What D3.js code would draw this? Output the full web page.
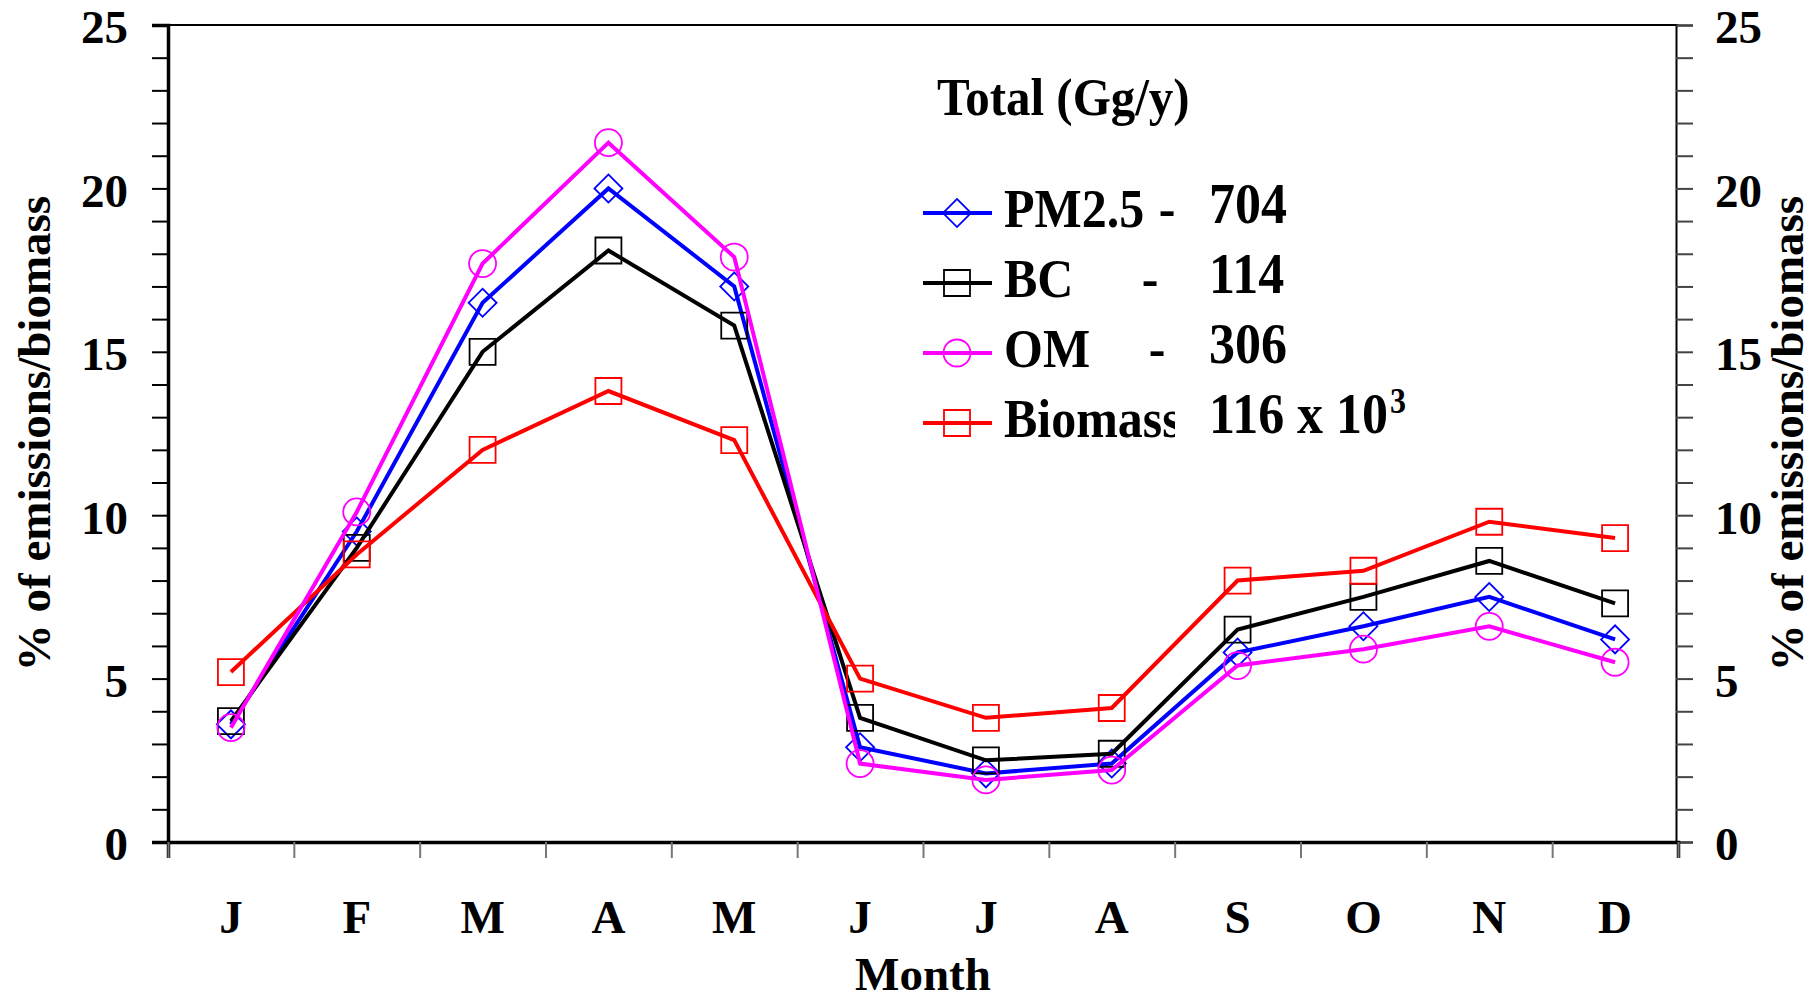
<!DOCTYPE html>
<html>
<head>
<meta charset="utf-8">
<script src="https://cdn.jsdelivr.net/npm/d3@7"></script>
<style>
  body { margin: 0; background: #fff; }
  text { font-family: "Liberation Serif", "Times New Roman", serif; font-weight: bold; }
</style>
</head>
<body>
<div id="chart"></div>
<script>
// month labels (index used as the key because J/M/A repeat)
var months = ["J", "F", "M", "A", "M", "J", "J", "A", "S", "O", "N", "D"];

// % of annual emissions per month
var pm25    = [3.6, 9.5, 16.5, 20.0, 17.0, 2.9, 2.1, 2.4, 5.8, 6.6, 7.5, 6.2];
var bc      = [3.7, 9.0, 15.0, 18.1, 15.8, 3.8, 2.5, 2.7, 6.5, 7.5, 8.6, 7.3];
var om      = [3.5, 10.1, 17.7, 21.4, 17.9, 2.4, 1.9, 2.2, 5.4, 5.9, 6.6, 5.5];
var biomass = [5.2, 8.8, 12.0, 13.8, 12.3, 5.0, 3.8, 4.1, 8.0, 8.3, 9.8, 9.3];

var seriesNames = ["PM2.5", "BC", "OM", "Biomass"];
var seriesTotals = ["704", "114", "306", "116 x 10"];
var yTicks = d3.range(0, 26, 1);

var series = [
  {name: "PM2.5", values: pm25, color: "#0000ff", marker: "diamond"},
  {name: "BC", values: bc, color: "#000000", marker: "square"},
  {name: "Biomass", values: biomass, color: "#ff0000", marker: "square"},
  {name: "OM", values: om, color: "#ff00ff", marker: "circle"}
];

var width = 1818, height = 1000;
var margin = {top: 25, right: 140, bottom: 158, left: 168};
var plotW = width - margin.left - margin.right,
    plotH = height - margin.top - margin.bottom;

var svg = d3.select("#chart")
  .append("svg")
  .attr("width", width)
  .attr("height", height);

var g = svg.append("g")
  .attr("transform", "translate(" + margin.left + "," + margin.top + ")");

var x = d3.scaleBand()
  .domain(d3.range(months.length))
  .range([0, plotW]);

var xEdge = d3.scaleLinear()
  .domain([0, months.length])
  .range([0, plotW]);

var y = d3.scaleLinear()
  .domain([0, 25])
  .range([plotH, 0]);

// frame: top line
g.append("line")
  .attr("x1", -16).attr("x2", plotW)
  .attr("y1", 0).attr("y2", 0)
  .attr("stroke", "#000").attr("stroke-width", 2);

// left axis
var yLeft = g.append("g")
  .call(d3.axisLeft(y).tickValues(yTicks).tickSize(16).tickPadding(24)
    .tickFormat(function(d){ return d % 5 === 0 ? d : ""; }));
yLeft.select(".domain").attr("stroke-width", 3.5);
yLeft.selectAll(".tick line").attr("stroke-width", 2);
yLeft.selectAll(".tick text")
  .attr("font-size", 47).attr("fill", "#000")
  .attr("dy", "0.38em");

// right axis
var yRight = g.append("g")
  .attr("transform", "translate(" + (plotW - 2) + ",0)")
  .call(d3.axisRight(y).tickValues(yTicks).tickSize(17).tickPadding(22)
    .tickFormat(function(d){ return d % 5 === 0 ? d : ""; }));
yRight.select(".domain").attr("stroke-width", 2);
yRight.selectAll(".tick line").attr("stroke", "#444").attr("stroke-width", 2);
yRight.selectAll(".tick text")
  .attr("font-size", 47).attr("fill", "#000")
  .attr("dy", "0.38em");

// bottom axis: gray ticks at month boundaries
var xAxis = g.append("g")
  .attr("transform", "translate(0," + plotH + ")")
  .call(d3.axisBottom(xEdge).tickValues(d3.range(0, 13)).tickSize(16).tickFormat(""));
xAxis.select(".domain").attr("stroke-width", 3.5);
xAxis.selectAll(".tick line").attr("stroke", "#777").attr("stroke-width", 2);

// month labels
g.append("g").selectAll("text")
  .data(months)
  .enter()
  .append("text")
  .attr("x", function(d, i){ return x(i) + x.bandwidth() / 2; })
  .attr("y", plotH + 91)
  .attr("text-anchor", "middle")
  .attr("font-size", 47)
  .text(function(d){ return d; });

// axis titles
svg.append("text")
  .attr("x", margin.left + plotW / 2)
  .attr("y", 990)
  .attr("text-anchor", "middle")
  .attr("font-size", 47)
  .text("Month");

svg.append("text")
  .attr("transform", "translate(50," + (margin.top + plotH / 2) + ") rotate(-90)")
  .attr("text-anchor", "middle")
  .attr("font-size", 47)
  .text("% of emissions/biomass");

svg.append("text")
  .attr("transform", "translate(1803," + (margin.top + plotH / 2) + ") rotate(-90)")
  .attr("text-anchor", "middle")
  .attr("font-size", 47)
  .text("% of emissions/biomass");

// marker symbols
function markerPath(type) {
  if (type === "circle") return d3.symbol().type(d3.symbolCircle).size(Math.PI * 13.5 * 13.5)();
  if (type === "diamond") return d3.symbol().type(d3.symbolSquare).size(392)();
  return d3.symbol().type(d3.symbolSquare).size(676)();
}
function markerTransform(type, px, py) {
  return "translate(" + px + "," + py + ")" + (type === "diamond" ? " rotate(45)" : "");
}

var line = d3.line()
  .x(function(d, i){ return x(i) + x.bandwidth() / 2; })
  .y(function(d){ return y(d); });

series.forEach(function(s){
  g.append("path")
    .datum(s.values)
    .attr("d", line)
    .attr("fill", "none")
    .attr("stroke", s.color)
    .attr("stroke-width", 4)
    .attr("stroke-linejoin", "miter");

  g.append("g").selectAll("path")
    .data(s.values)
    .enter()
    .append("path")
    .attr("d", markerPath(s.marker))
    .attr("transform", function(d, i){
      return markerTransform(s.marker, x(i) + x.bandwidth() / 2, y(d));
    })
    .attr("fill", "none")
    .attr("stroke", s.color)
    .attr("stroke-width", 1.8);
});

// legend (glyphs in the original are a little taller than wide)
var legend = svg.append("g");
legend.append("text")
  .attr("transform", "translate(937,115) scale(1,1.08)")
  .attr("font-size", 49)
  .text("Total (Gg/y)");

svg.append("defs").append("clipPath")
  .attr("id", "clipName")
  .append("rect")
  .attr("x", 0).attr("y", -100).attr("width", 171).attr("height", 200);

var legendRows = [
  {name: seriesNames[0], total: seriesTotals[0], color: "#0000ff", marker: "diamond", dashX: 1167},
  {name: seriesNames[1], total: seriesTotals[1], color: "#000000", marker: "square", dashX: 1150},
  {name: seriesNames[2], total: seriesTotals[2], color: "#ff00ff", marker: "circle", dashX: 1157},
  {name: seriesNames[3], total: seriesTotals[3], color: "#ff0000", marker: "square", dashX: null}
];

legendRows.forEach(function(r, i){
  var cy = 213 + i * 70;
  legend.append("line")
    .attr("x1", 923).attr("x2", 992)
    .attr("y1", cy).attr("y2", cy)
    .attr("stroke", r.color).attr("stroke-width", 4);
  legend.append("path")
    .attr("d", markerPath(r.marker))
    .attr("transform", markerTransform(r.marker, 957, cy))
    .attr("fill", "none")
    .attr("stroke", r.color)
    .attr("stroke-width", 1.8);
  legend.append("g")
    .attr("transform", "translate(1004," + (cy + 14) + ")")
    .attr("clip-path", "url(#clipName)")
    .append("text")
    .attr("transform", "scale(1,1.1)")
    .attr("font-size", 50)
    .text(r.name);
  if (r.dashX !== null) {
    legend.append("text")
      .attr("transform", "translate(" + r.dashX + "," + (cy + 14) + ") scale(1,1.1)")
      .attr("font-size", 50)
      .attr("text-anchor", "middle")
      .text("-");
  }
  var t = legend.append("text")
    .attr("transform", "translate(1209," + (cy + 10) + ") scale(1,1.1)")
    .attr("font-size", 52)
    .text(r.total);
  if (i === 3) {
    t.append("tspan")
      .attr("dx", 2)
      .attr("dy", -18)
      .attr("font-size", 32)
      .text("3");
  }
});
</script>
</body>
</html>
